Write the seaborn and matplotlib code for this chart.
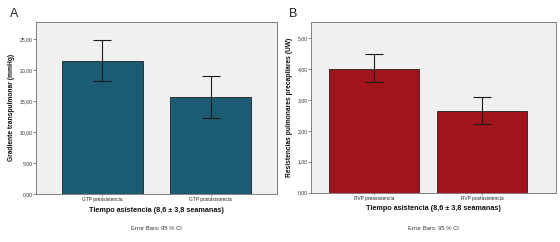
import matplotlib
matplotlib.use('Agg')
import matplotlib.pyplot as plt
import seaborn as sns
import pandas as pd
from matplotlib.ticker import FuncFormatter

# Panel A: gradiente transpulmonar
cat_a = ['GTP preasistencia', 'GTP postasistencia']
media_a = [21.45, 15.65]
ic_inf_a = [18.2, 12.3]
ic_sup_a = [24.8, 19.0]

# Panel B: resistencias pulmonares precapilares
cat_b = ['RVP preasistencia', 'RVP postasistencia']
media_b = [4.01, 2.65]
ic_inf_b = [3.57, 2.21]
ic_sup_b = [4.47, 3.11]

sns.set_style('white')
plt.rcParams['font.family'] = ['Liberation Sans', 'DejaVu Sans']

fig = plt.figure(figsize=(5.6, 2.42), dpi=100)
fig.patch.set_facecolor('white')

coma = FuncFormatter(lambda v, p: f'{v:.2f}'.replace('.', ','))


def panel(rect, cats, medias, inf, sup, color, ylabel, ylim, yticks, xlim, width, letra, letra_x):
    ax = fig.add_axes(rect)
    df = pd.DataFrame({'cat': cats, 'val': medias})
    sns.barplot(data=df, x='cat', y='val', color=color, saturation=1, width=width,
                edgecolor='#202020', linewidth=0.6, errorbar=None, ax=ax)
    err = [[m - l for m, l in zip(medias, inf)], [s - m for m, s in zip(medias, sup)]]
    ax.errorbar(range(len(cats)), medias, yerr=err, fmt='none', ecolor='#1a1a1a',
                elinewidth=0.8, capsize=6.3, capthick=0.8)
    ax.set_facecolor('#f0f0f0')
    ax.set_xlim(*xlim)
    ax.set_ylim(*ylim)
    ax.set_yticks(yticks)
    ax.yaxis.set_major_formatter(coma)
    for s in ax.spines.values():
        s.set_color('#808080')
        s.set_linewidth(0.7)
    ax.tick_params(axis='y', labelsize=3.7, length=2, width=0.5, color='#555555',
                   pad=0.5, labelcolor='#333333', left=True)
    ax.tick_params(axis='x', labelsize=3.5, length=1.5, width=0.5, color='#555555',
                   pad=1, labelcolor='#222222', bottom=True)
    ax.set_xlabel('Tiempo asistencia (8,6 ± 3,8 seamanas)', fontsize=5.2,
                  fontweight='bold', labelpad=3, color='#111111')
    ax.set_ylabel(ylabel, fontsize=4.8, fontweight='bold', labelpad=3, color='#111111')
    cx = rect[0] + rect[2] / 2
    fig.text(cx, 1 - 229 / 242, 'Error Bars: 95 % CI', fontsize=4.2, ha='center',
             va='center', color='#333333')
    fig.text(letra_x, 1 - 14 / 242, letra, fontsize=9, ha='left', va='center',
             color='#222222')
    return ax


panel([36 / 560, 48 / 242, 241 / 560, 172.3 / 242], cat_a, media_a, ic_inf_a, ic_sup_a,
      '#1b5b73', 'Gradiente transpulmonar (mmHg)', (0, 27.8), [0, 5, 10, 15, 20, 25],
      (-0.615, 1.615), 0.755, 'A', 10 / 560)

panel([311 / 560, 49.3 / 242, 245 / 560, 171 / 242], cat_b, media_b, ic_inf_b, ic_sup_b,
      '#a1141b', 'Resistencias pulmonares precapilares (UW)', (0, 5.53), [0, 1, 2, 3, 4, 5],
      (-0.58, 1.68), 0.83, 'B', 289 / 560)

fig.savefig('out.png', dpi=100, facecolor='white')
